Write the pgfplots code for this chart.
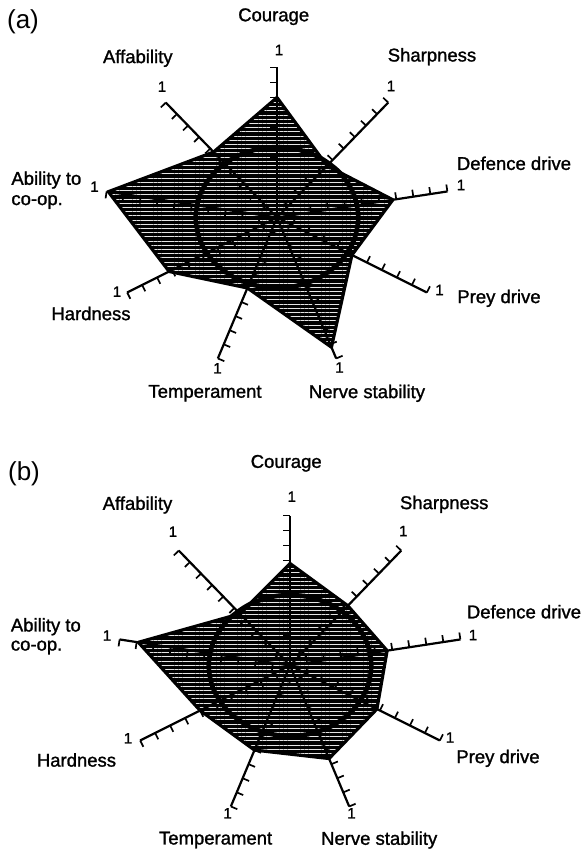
\documentclass[border=0pt]{standalone}
\usepackage{pgfplots}
\pgfplotsset{compat=1.18}
\usepackage{fontspec}
\setmainfont{Liberation Sans}[BoldFont={Liberation Sans}, BoldFeatures={FakeBold=1.3}]
\usetikzlibrary{patterns.meta}

\pgfdeclareplotmark{tickccw}{%
  \pgfpathmoveto{\pgfqpoint{0pt}{0pt}}%
  \pgfpathlineto{\pgfqpoint{0pt}{3.5pt}}%
  \pgfusepathqstroke}

% #1 = angle of the spoke (data), #2 = on-screen angle for the tick marks
\newcommand{\spoketicks}[2]{%
  \addplot[only marks, mark=tickccw, mark options={rotate=#2, line width=0.85pt, solid, black}]
    coordinates {(#1,0.1) (#1,0.2) (#1,0.3) (#1,0.4) (#1,0.5) (#1,0.6) (#1,0.7) (#1,0.8) (#1,0.9) (#1,1)};
}
\newcommand{\spokeline}[1]{%
  \addplot[black, line width=1.1pt, line cap=butt] coordinates {(#1,0) (#1,1)};
}
\newcommand{\allticks}{%
  \spoketicks{90}{90}\spoketicks{50}{45.9}\spoketicks{10}{8.7}\spoketicks{-30}{-26.6}\spoketicks{-70}{-67.2}%
  \spoketicks{-110}{-112.8}\spoketicks{-150}{-153.4}\spoketicks{170}{171.3}\spoketicks{130}{134.1}%
}
\newcommand{\alllines}{%
  \spokeline{90}\spokeline{50}\spokeline{10}\spokeline{-30}\spokeline{-70}%
  \spokeline{-110}\spokeline{-150}\spokeline{170}\spokeline{130}%
}
\newcommand{\refcircle}{%
  \addplot[black, line width=2.3pt, smooth cycle] coordinates {(0,0.47) (20,0.47) (40,0.47) (60,0.47) (80,0.47) (100,0.47) (120,0.47) (140,0.47) (160,0.47) (180,0.47) (200,0.47) (220,0.47) (240,0.47) (260,0.47) (280,0.47) (300,0.47) (320,0.47) (340,0.47)};
}
\pgfplotsset{
  radar/.style={anchor=origin, x=86.5pt, y=75pt, xmin=-1.1, xmax=1.1, ymin=-1.1, ymax=1.1,
    hide axis, clip=false, data cs=polar},
  hatchfill/.style={draw=none, fill=black,
    postaction={pattern={Lines[angle=0,distance=2.1pt,line width=0.35pt]}, pattern color=black!10}},
  outline/.style={draw=black, line width=1.6pt, line join=round},
}
\newcommand{\lab}{\fontsize{9.25}{11}\selectfont\bfseries}
\newcommand{\one}{\fontsize{7.5}{9}\selectfont\bfseries}

\begin{document}
\begin{tikzpicture}[x=0.5pt, y=-0.5pt]
\path[use as bounding box] (0,0) rectangle (581,850);

% ---------------- (a) ----------------
\begin{axis}[radar, at={(138.5pt,-108.75pt)}]
  \allticks
  \addplot[hatchfill] coordinates {(90,0.80) (50,0.45) (10,0.68) (-30,0.50) (-70,0.92) (-110,0.50) (-150,0.72) (170,0.99) (130,0.57) (90,0.80)};
  \alllines
  \addplot[outline] coordinates {(90,0.80) (50,0.45) (10,0.68) (-30,0.50) (-70,0.92) (-110,0.50) (-150,0.72) (170,0.99) (130,0.57) (90,0.80)};
  \refcircle
\end{axis}

% ---------------- (b) ----------------
\begin{axis}[radar, at={(145pt,-332.75pt)}]
  \allticks
  \addplot[hatchfill] coordinates {(90,0.68) (50,0.52) (10,0.57) (-30,0.58) (-70,0.66) (-110,0.60) (-150,0.60) (170,0.89) (130,0.45) (90,0.68)};
  \alllines
  \addplot[outline] coordinates {(90,0.68) (50,0.52) (10,0.57) (-30,0.58) (-70,0.66) (-110,0.60) (-150,0.60) (170,0.89) (130,0.45) (90,0.68)};
  \refcircle
\end{axis}

% labels (a)
\node[font=\fontsize{13}{15}\selectfont] at (23,21.7) {(a)};
\node[font=\lab] at (273.7,16.7) {Courage};
\node[font=\one] at (279,50) {1};
\node[font=\lab] at (137.8,58.3) {Affability};
\node[font=\one] at (162,86.7) {1};
\node[font=\lab] at (432,56.7) {Sharpness};
\node[font=\one] at (391,86) {1};
\node[font=\lab] at (514,163.3) {Defence drive};
\node[font=\one] at (461,185) {1};
\node[font=\lab, anchor=west, inner sep=0pt] at (11,180) {Ability to};
\node[font=\lab, anchor=west, inner sep=0pt] at (11,202) {co-op.};
\node[font=\one] at (94.5,186.7) {1};
\node[font=\lab] at (499,298.3) {Prey drive};
\node[font=\one] at (439.5,290) {1};
\node[font=\lab] at (91,313.5) {Hardness};
\node[font=\one] at (117,291.7) {1};
\node[font=\one] at (217.5,368.3) {1};
\node[font=\lab] at (205,393.3) {Temperament};
\node[font=\one] at (339.5,367.5) {1};
\node[font=\lab] at (367,393.3) {Nerve stability};

% labels (b)
\node[font=\fontsize{13}{15}\selectfont] at (24,474) {(b)};
\node[font=\lab] at (286.2,463.3) {Courage};
\node[font=\one] at (291.8,496.7) {1};
\node[font=\lab] at (137.5,505) {Affability};
\node[font=\one] at (172.9,531.7) {1};
\node[font=\lab] at (444.2,504.3) {Sharpness};
\node[font=\one] at (403.3,531) {1};
\node[font=\lab] at (524,611.7) {Defence drive};
\node[font=\one] at (473,635) {1};
\node[font=\lab, anchor=west, inner sep=0pt] at (10.5,626.7) {Ability to};
\node[font=\lab, anchor=west, inner sep=0pt] at (10.5,647.5) {co-op.};
\node[font=\one] at (107,635.5) {1};
\node[font=\lab] at (498,758.3) {Prey drive};
\node[font=\one] at (450,737.5) {1};
\node[font=\lab] at (76.5,760) {Hardness};
\node[font=\one] at (128,738.3) {1};
\node[font=\one] at (227.6,813.3) {1};
\node[font=\lab] at (215.6,840) {Temperament};
\node[font=\one] at (351.5,813.3) {1};
\node[font=\lab] at (379.2,840) {Nerve stability};
\end{tikzpicture}
\end{document}
